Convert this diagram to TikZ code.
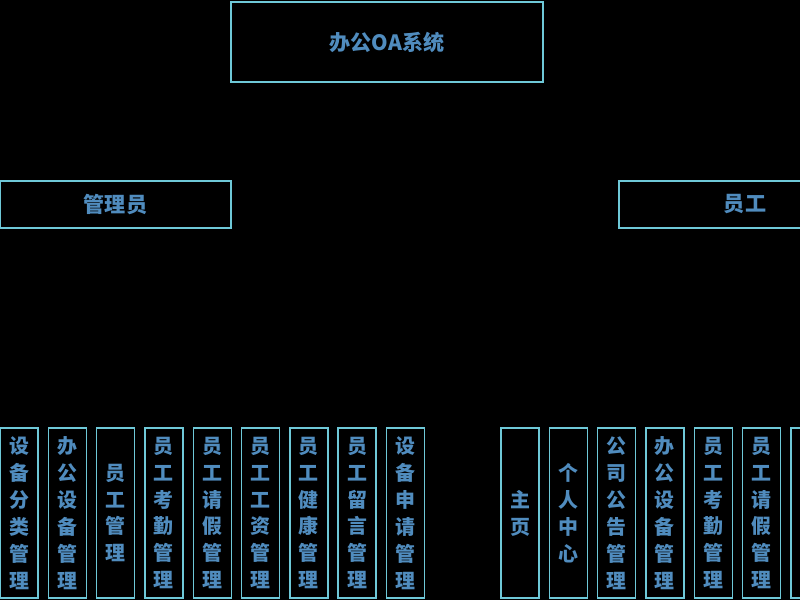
\documentclass[tikz,border=0pt]{standalone}
\usepackage{fontspec}
\newfontfamily\cjk{Noto Sans CJK SC}
\usetikzlibrary{positioning}
\definecolor{edgeCyan}{RGB}{110,200,215}
\definecolor{textBlue}{RGB}{80,140,190}
\tikzset{
  box/.style = {draw=#1, line width=1.2pt, inner sep=0pt, text=textBlue,
    font=\cjk\bfseries\fontsize{18}{22}\selectfont},
  module/.style = {box=#1, minimum width=1.14cm, minimum height=5.1cm, align=center,
    font=\cjk\bfseries\fontsize{17}{23}\selectfont}
}

\begin{document}
\begin{tikzpicture}

    % Background
    \useasboundingbox (0,0) rectangle (24,18);
    \fill[black] (0,0) rectangle (24,18);

    % System and roles
    \node[box={edgeCyan}, minimum width=9.36cm, minimum height=2.4cm] (sys) at (11.61,16.74) {办公OA系统};
    \node[box={edgeCyan}, minimum width=6.93cm, minimum height=1.41cm] (admin) at (3.465,11.865) {管理员};
    \node[box={edgeCyan}, minimum width=7.56cm, minimum height=1.41cm] (staff) at (22.35,11.865) {员工};

    % Admin modules
    \foreach \task [count=\i from 0] in {
        {设\\备\\分\\类\\管\\理}, {办\\公\\设\\备\\管\\理}, {员\\工\\管\\理},
        {员\\工\\考\\勤\\管\\理}, {员\\工\\请\\假\\管\\理}, {员\\工\\工\\资\\管\\理},
        {员\\工\\健\\康\\管\\理}, {员\\工\\留\\言\\管\\理}, {设\\备\\申\\请\\管\\理}} {
        \node[module={edgeCyan}] (admin\i) at ({0.57+1.449*\i},2.61) {\task};
    }

    % Staff modules
    \foreach \task [count=\j from 0] in {
        {主\\页}, {个\\人\\中\\心}, {公\\司\\公\\告\\管\\理}, {办\\公\\设\\备\\管\\理},
        {员\\工\\考\\勤\\管\\理}, {员\\工\\请\\假\\管\\理}, {}} {
        \node[module={edgeCyan}] (staff\j) at ({15.6+1.449*\j},2.61) {\task};
    }

\end{tikzpicture}
\end{document}
